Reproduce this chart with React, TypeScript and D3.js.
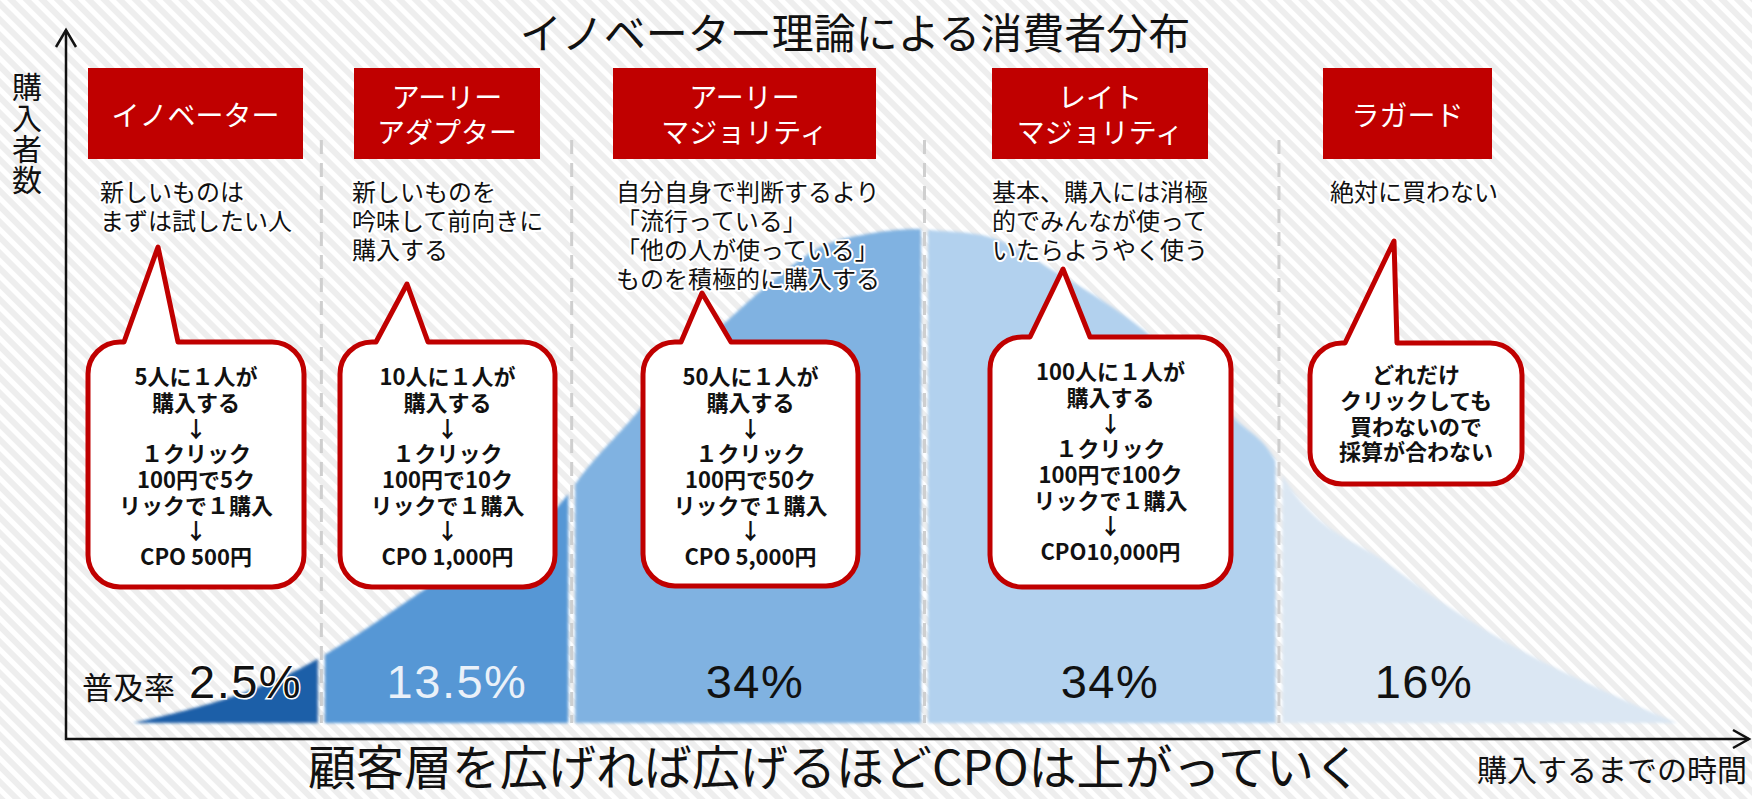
import React from 'react';
import * as d3 from 'd3';

const W = 1752;
const H = 799;

// 区分とラベル
const segmentNames = [
  ['イノベーター'],
  ['アーリー', 'アダプター'],
  ['アーリー', 'マジョリティ'],
  ['レイト', 'マジョリティ'],
  ['ラガード'],
];
const shares = ['2.5%', '13.5%', '34%', '34%', '16%'];
const descriptions = [
  ['新しいものは', 'まずは試したい人'],
  ['新しいものを', '吟味して前向きに', '購入する'],
  ['自分自身で判断するより', '「流行っている」', '「他の人が使っている」', 'ものを積極的に購入する'],
  ['基本、購入には消極', '的でみんなが使って', 'いたらようやく使う'],
  ['絶対に買わない'],
];
const bubbleTexts = [
  ['5人に１人が', '購入する', '↓', '１クリック', '100円で5ク', 'リックで１購入', '↓', 'CPO 500円'],
  ['10人に１人が', '購入する', '↓', '１クリック', '100円で10ク', 'リックで１購入', '↓', 'CPO 1,000円'],
  ['50人に１人が', '購入する', '↓', '１クリック', '100円で50ク', 'リックで１購入', '↓', 'CPO 5,000円'],
  ['100人に１人が', '購入する', '↓', '１クリック', '100円で100ク', 'リックで１購入', '↓', 'CPO10,000円'],
  ['どれだけ', 'クリックしても', '買わないので', '採算が合わない'],
];

// 分布曲線（購入までの時間, 相対人数）
const curveTime = [4, 15, 15.5, 22.9, 29.9, 30.4, 33.6, 36.5, 39.8, 41.5, 45.2, 47.7, 50.8, 51.4, 54.5, 59.3, 64.2, 69.7, 72.0, 72.4, 78.8, 85.2, 91.7, 95.9];
const curveDensity = [0, 13, 14, 30.6, 46.4, 48.8, 61.3, 72.5, 82.8, 87.9, 96.8, 99, 100, 99.8, 98.8, 90.5, 79.4, 61.3, 53, 50.2, 32, 17.4, 6.3, 0];
const boundaries = [4, 15.2, 30.1, 51.1, 72.2, 96];

const fills = ['#1f5fa8', '#5797d5', '#80b2e1', '#b2d1ee', '#dbe7f3'];
const shareColors = ['#111', '#eaf1f9', '#111', '#111', '#111'];

// layout
const boxes = [[88, 303], [354, 540], [613, 876], [992, 1208], [1323, 1492]];
const descX = [100, 352, 616, 992, 1330];
const shareX = [189, 457, 755, 1110, 1424];
const bubbles = [
  { x: 88, y: 342, w: 216, h: 245, p1: 124, p2: 178, tx: 158, ty: 247, cy: 377 },
  { x: 340, y: 342, w: 215, h: 245, p1: 376, p2: 428, tx: 407, ty: 284, cy: 377 },
  { x: 643, y: 342, w: 215, h: 244, p1: 681, p2: 731, tx: 702, ty: 293, cy: 377 },
  { x: 990, y: 337, w: 241, h: 250, p1: 1030, p2: 1090, tx: 1063, ty: 269, cy: 372 },
  { x: 1310, y: 343, w: 212, h: 141, p1: 1345, p2: 1397, tx: 1394, ty: 241, cy: 375 },
];

const JP = "'Noto Sans CJK JP', 'Noto Sans', sans-serif";

function bubblePath(b: any, r = 32) {
  const { x, y, w, h, p1, p2, tx, ty } = b;
  return `M${x + r},${y} L${p1},${y} L${tx},${ty} L${p2},${y} L${x + w - r},${y}` +
    ` A${r},${r} 0 0 1 ${x + w},${y + r} L${x + w},${y + h - r}` +
    ` A${r},${r} 0 0 1 ${x + w - r},${y + h} L${x + r},${y + h}` +
    ` A${r},${r} 0 0 1 ${x},${y + h - r} L${x},${y + r}` +
    ` A${r},${r} 0 0 1 ${x + r},${y} Z`;
}

export default function App() {
  const x = d3.scaleLinear().domain([0, 100]).range([66, 1746]);
  const y = d3.scaleLinear().domain([0, 100]).range([723, 229]);
  const pts = curveTime.map((t, i) => [t, curveDensity[i]] as [number, number]);
  const area = d3.area<[number, number]>()
    .x(d => x(d[0]))
    .y0(y(0))
    .y1(d => y(d[1]))
    .curve(d3.curveMonotoneX);
  const areaPath = area(pts) || '';
  const gap = 3.5;

  return (
    <>
      <style>{'body{margin:0;overflow:hidden}'}</style>
      <svg width={W} height={H} style={{ display: 'block' }}>
        <defs>
          <pattern id="stripes" width="11" height="11" patternUnits="userSpaceOnUse" patternTransform="rotate(45)">
            <rect width="11" height="11" fill="#ffffff" />
            <rect width="11" height="6" fill="#eeeeee" />
          </pattern>
          <filter id="soft" x="-5%" y="-5%" width="110%" height="110%">
            <feGaussianBlur stdDeviation="1.6" />
          </filter>
          {boundaries.slice(0, -1).map((b, i) => (
            <clipPath id={`seg${i}`} key={i}>
              <rect x={x(b) + (i === 0 ? -5 : gap)} y={0}
                width={x(boundaries[i + 1]) - x(b) - (i === 0 ? -5 + gap : 2 * gap) + (i === 4 ? 10 : 0)} height={H} />
            </clipPath>
          ))}
        </defs>
        <rect width={W} height={H} fill="url(#stripes)" />

        {/* dashed separators */}
        {boundaries.slice(1, -1).map((b, i) => (
          <line key={i} x1={x(b)} x2={x(b)} y1={140} y2={723}
            stroke="#cfcfcf" strokeWidth={3} strokeDasharray="14 9" />
        ))}

        {/* distribution */}
        <g filter="url(#soft)">
          {fills.map((f, i) => (
            <path key={i} d={areaPath} fill={f} clipPath={`url(#seg${i})`} />
          ))}
        </g>

        {/* axes */}
        <g stroke="#111" strokeWidth={2.5} fill="none">
          <line x1={66} x2={66} y1={740} y2={30} />
          <polyline points="56,47 66,30 76,47" />
          <line x1={65} x2={1749} y1={739} y2={739} />
          <polyline points="1733,730 1749,739 1733,748" />
        </g>
        <text x={27} y={72} fontSize={30} fontFamily={JP} fill="#111" letterSpacing={1}
          style={{ writingMode: 'vertical-rl' as any }}>購入者数</text>
        <text x={1747} y={781} fontSize={30} fontFamily={JP} textAnchor="end" fill="#111">購入するまでの時間</text>

        {/* title & bottom */}
        <text x={855} y={49} fontSize={42} fontFamily={JP} textAnchor="middle" fill="#111">イノベーター理論による消費者分布</text>
        <text x={835} y={785} fontSize={48} fontFamily={JP} textAnchor="middle" fill="#111">顧客層を広げれば広げるほどCPOは上がっていく</text>

        {/* red boxes */}
        {segmentNames.map((lines, i) => {
          const [x0, x1] = boxes[i];
          const cx = (x0 + x1) / 2;
          const centers = lines.length === 1 ? [115] : [97, 132];
          return (
            <g key={i}>
              <rect x={x0} y={68} width={x1 - x0} height={91} fill="#c00000" />
              <text fontSize={28} fontFamily={JP} textAnchor="middle" fill="#fff">
                {lines.map((l, j) => (
                  <tspan key={j} x={cx} y={centers[j] + 10.5}>{l}</tspan>
                ))}
              </text>
            </g>
          );
        })}

        {/* descriptions */}
        {descriptions.map((lines, i) => (
          <text key={i} fontSize={24} fontFamily={JP} fill="#111" stroke="#ffffff" strokeWidth={4}
            strokeLinejoin="round" style={{ paintOrder: 'stroke' }}>
            {lines.map((l, j) => (
              <tspan key={j} x={descX[i]} y={192 + j * 29 + 9}>{l}</tspan>
            ))}
          </text>
        ))}

        {/* bubbles */}
        {bubbles.map((b, i) => {
          const cx = b.x + b.w / 2;
          return (
            <g key={i}>
              <path d={bubblePath(b)} fill="#fff" stroke="#c00000" strokeWidth={5} strokeLinejoin="round" />
              <text fontSize={22} fontWeight={700} fontFamily={JP} textAnchor="middle" fill="#111">
                {bubbleTexts[i].map((l, j) => (
                  <tspan key={j} x={cx} y={b.cy + j * 25.7 + 8.2}>{l}</tspan>
                ))}
              </text>
            </g>
          );
        })}

        {/* shares */}
        <text x={82} y={699} fontSize={31} fontFamily={JP} fill="#111">普及率</text>
        {shares.map((s, i) => (
          <text key={i} x={shareX[i]} y={698} fontSize={47} fontFamily="'Liberation Sans', Arial, sans-serif"
            textAnchor={i === 0 ? 'start' : 'middle'} letterSpacing={1.5} fill={shareColors[i]}
            stroke={i === 0 ? '#fff' : 'none'} strokeWidth={i === 0 ? 3 : 0}
            style={{ paintOrder: 'stroke' }}>{s}</text>
        ))}
      </svg>
    </>
  );
}
